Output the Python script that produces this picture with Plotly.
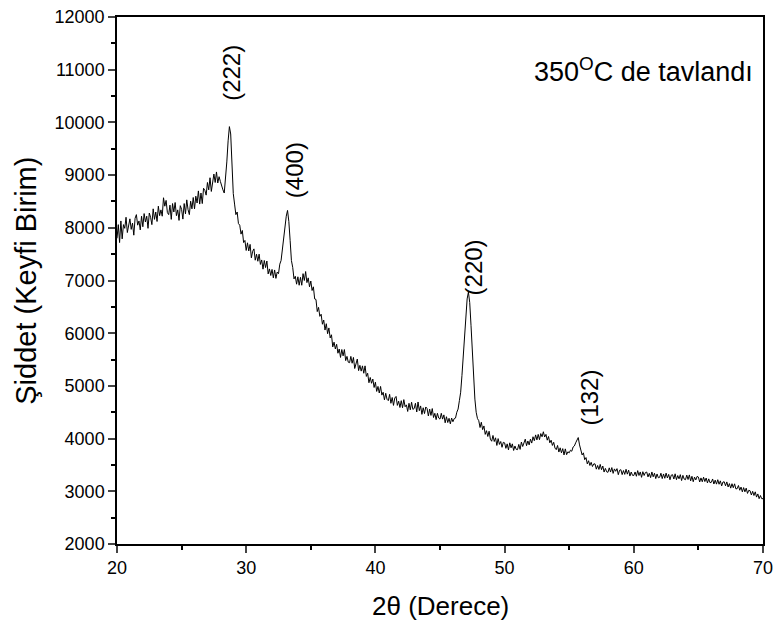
import numpy as np
import plotly.graph_objects as go

# 2-theta sampling: 20.0 to 70.0 in 0.1 degree steps
two_theta_start = 20.0
two_theta_step = 0.1

intensity = [
    # 20
    7800, 8060, 7720, 8130, 7790, 8060, 7990, 8200, 7910, 8080,
    # 21
    8170, 7970, 8090, 7860, 8180, 8250, 8050, 8130, 7960, 8220,
    # 22
    8020, 8270, 8110, 8220, 7990, 8280, 8200, 8060, 8360, 8160,
    # 23
    8300, 8120, 8410, 8230, 8340, 8220, 8570, 8410, 8520, 8290,
    # 24
    8250, 8430, 8160, 8460, 8300, 8480, 8230, 8340, 8140, 8420,
    # 25
    8350, 8165, 8460, 8265, 8530, 8345, 8250, 8505, 8360, 8575,
    # 26
    8360, 8600, 8470, 8700, 8450, 8660, 8460, 8750, 8710, 8620,
    # 27
    8860, 8720, 8950, 8690, 8920, 9020, 8860, 9060, 8850, 8970,
    # 28
    8880, 8780, 8720, 8660, 8900, 9250, 9650, 9920, 9780, 9300,
    # 29
    8650, 8450, 8250, 8300, 8080, 8050, 7880, 7950, 7720, 7760,
    # 30
    7570, 7715, 7560, 7685, 7430, 7555, 7600, 7385, 7500, 7365,
    # 31
    7500, 7305, 7390, 7215, 7380, 7245, 7370, 7125, 7220, 7095,
    # 32
    7210, 7050, 7200, 7040, 7160, 7130, 7310, 7380, 7620, 7800,
    # 33
    7980, 8220, 8330, 8120, 7760, 7380, 7250, 7030, 7080, 6930,
    # 34
    7070, 6910, 7060, 6910, 7130, 7000, 7170, 6960, 7050, 6880,
    # 35
    6990, 6810, 6880, 6650, 6640, 6410, 6490, 6320, 6360, 6170,
    # 36
    6250, 6060, 6180, 5990, 6100, 5910, 5970, 5740, 5830, 5700,
    # 37
    5790, 5620, 5700, 5540, 5690, 5570, 5690, 5480, 5560, 5450,
    # 38
    5440, 5560, 5430, 5540, 5330, 5440, 5510, 5290, 5390, 5280,
    # 39
    5380, 5240, 5380, 5180, 5240, 5060, 5160, 5050, 5130, 4970,
    # 40
    5070, 4895, 4990, 4865, 4990, 4825, 4880, 4735, 4860, 4745,
    # 41
    4720, 4840, 4670, 4780, 4630, 4770, 4800, 4630, 4710, 4590,
    # 42
    4720, 4585, 4740, 4605, 4640, 4515, 4670, 4545, 4690, 4555,
    # 43
    4570, 4670, 4505, 4695, 4530, 4620, 4460, 4585, 4475, 4600,
    # 44
    4570, 4430, 4560, 4440, 4570, 4400, 4480, 4360, 4480, 4390,
    # 45
    4370, 4480, 4370, 4450, 4300, 4415, 4305, 4385, 4280, 4390,
    # 46
    4320, 4380, 4390, 4500, 4560, 4720, 4880, 5200, 5550, 5950,
    # 47
    6350, 6650, 6780, 6580, 6150, 5600, 5100, 4750, 4500, 4380,
    # 48
    4340, 4210, 4310, 4170, 4240, 4080, 4150, 4040, 4140, 3990,
    # 49
    3950, 4060, 3945, 4015, 3870, 4000, 3890, 3945, 3835, 3930,
    # 50
    3920, 3815, 3900, 3785, 3920, 3825, 3900, 3775, 3860, 3795,
    # 51
    3790, 3890, 3795, 3935, 3850, 3930, 3990, 3865, 3955, 3880,
    # 52
    3990, 3915, 4035, 3960, 4070, 3975, 4080, 3980, 4095, 4035,
    # 53
    4130, 4030, 4080, 3970, 4040, 3920, 3970, 3870, 3930, 3820,
    # 54
    3790, 3870, 3745, 3825, 3730, 3810, 3690, 3805, 3695, 3750,
    # 55
    3730, 3780, 3760, 3840, 3860, 3920, 3990, 4020, 3880, 3800,
    # 56
    3690, 3730, 3600, 3640, 3520, 3580, 3490, 3550, 3470, 3520,
    # 57
    3520, 3420, 3490, 3415, 3510, 3410, 3480, 3365, 3435, 3370,
    # 58
    3360, 3445, 3365, 3450, 3340, 3425, 3380, 3430, 3315, 3400,
    # 59
    3410, 3317, 3394, 3321, 3418, 3325, 3402, 3289, 3366, 3303,
    # 60
    3300, 3367, 3285, 3392, 3300, 3367, 3265, 3372, 3300, 3357,
    # 61
    3365, 3273, 3341, 3259, 3367, 3275, 3343, 3241, 3329, 3257,
    # 62
    3265, 3343, 3241, 3329, 3247, 3345, 3253, 3321, 3219, 3307,
    # 63
    3315, 3233, 3332, 3220, 3299, 3237, 3316, 3204, 3303, 3231,
    # 64
    3220, 3307, 3224, 3311, 3198, 3285, 3182, 3269, 3216, 3283,
    # 65
    3270, 3177, 3254, 3181, 3268, 3185, 3252, 3159, 3236, 3163,
    # 66
    3170, 3234, 3138, 3212, 3136, 3220, 3134, 3198, 3102, 3176,
    # 67
    3180, 3104, 3178, 3082, 3146, 3060, 3144, 3068, 3142, 3046,
    # 68
    3050, 3110, 3020, 3080, 2990, 3070, 2990, 3060, 2960, 3020,
    # 69
    3010, 2930, 3000, 2920, 2990, 2890, 2950, 2860, 2920, 2860,
    # 70
    2860,
]

two_theta = [round(two_theta_start + i * two_theta_step, 2) for i in range(len(intensity))]

peak_labels = ["(222)", "(400)", "(220)", "(132)"]
peak_label_x = [28.9, 33.8, 47.6, 56.5]
peak_label_y = [10940, 9100, 7240, 4770]

x_ticks = [20, 30, 40, 50, 60, 70]
x_tick_labels = ["20", "30", "40", "50", "60", "70"]
y_ticks = [2000, 3000, 4000, 5000, 6000, 7000, 8000, 9000, 10000, 11000, 12000]
y_tick_labels = ["2000", "3000", "4000", "5000", "6000", "7000", "8000",
                 "9000", "10000", "11000", "12000"]

FONT = "Liberation Sans, Arial, sans-serif"

fig = go.Figure()
fig.add_trace(go.Scatter(
    x=two_theta, y=intensity, mode="lines",
    line=dict(color="black", width=1),
    showlegend=False, hoverinfo="skip",
))

annotations = []
for lbl, lx, ly in zip(peak_labels, peak_label_x, peak_label_y):
    annotations.append(dict(
        x=lx, y=ly, xref="x", yref="y", text=lbl, showarrow=False,
        textangle=-90, font=dict(family=FONT, size=24, color="black"),
        xanchor="center", yanchor="middle",
    ))

annotations.append(dict(
    x=69.35, y=10990, xref="x", yref="y",
    text="350<sup>O</sup>C de tavlandı", showarrow=False,
    xanchor="right", yanchor="middle",
    font=dict(family=FONT, size=27, color="black"),
))
annotations.append(dict(
    x=0.5, y=-0.117, xref="paper", yref="paper",
    text="2θ (Derece)", showarrow=False,
    xanchor="center", yanchor="middle",
    font=dict(family=FONT, size=26, color="black"),
))
annotations.append(dict(
    x=-0.142, y=0.5, xref="paper", yref="paper",
    text="Şiddet (Keyfi Birim)", showarrow=False, textangle=-90,
    xanchor="center", yanchor="middle",
    font=dict(family=FONT, size=29, color="black"),
))

fig.update_layout(
    width=776, height=624,
    margin=dict(l=117, r=13, t=17, b=80, autoexpand=False),
    paper_bgcolor="white", plot_bgcolor="white",
    font=dict(family=FONT, size=18, color="black"),
    annotations=annotations,
)
fig.update_xaxes(
    range=[20, 70], tickvals=x_ticks, ticktext=x_tick_labels,
    ticks="outside", ticklen=7, tickwidth=1.5,
    showline=True, linecolor="black", linewidth=1.5, mirror=True,
    showgrid=False, zeroline=False,
    minor=dict(dtick=5, ticks="outside", ticklen=4, tickwidth=1.5, tickcolor="black"),
    tickfont=dict(family=FONT, size=18, color="black"),
)
fig.update_yaxes(
    range=[2000, 12000], tickvals=y_ticks, ticktext=y_tick_labels,
    ticks="outside", ticklen=7, tickwidth=1.5,
    showline=True, linecolor="black", linewidth=1.5, mirror=True,
    showgrid=False, zeroline=False,
    minor=dict(dtick=500, ticks="outside", ticklen=4, tickwidth=1.5, tickcolor="black"),
    tickfont=dict(family=FONT, size=18, color="black"),
)

fig.write_html("out.html")
